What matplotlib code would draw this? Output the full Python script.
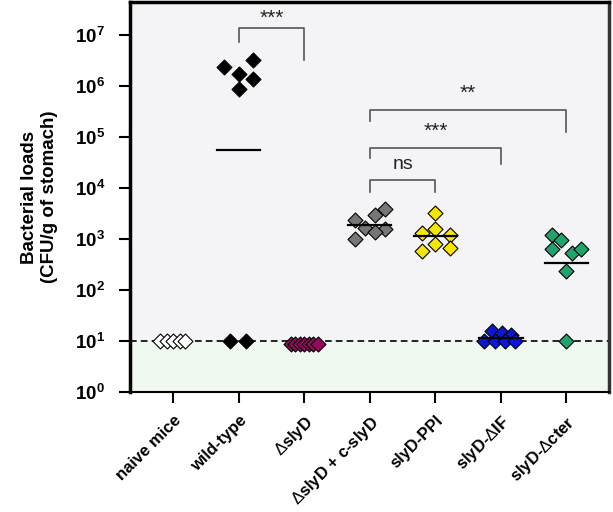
import numpy as np
import matplotlib
matplotlib.use("Agg")
import matplotlib.pyplot as plt

plt.rcParams['font.family'] = ['Liberation Sans', 'DejaVu Sans']
plt.rcParams['mathtext.fontset'] = 'custom'
plt.rcParams['mathtext.rm'] = 'Liberation Sans'
plt.rcParams['mathtext.bf'] = 'Liberation Sans:bold'

categories = ["naive mice", "wild-type", r"$\Delta$slyD", r"$\Delta$slyD + c-slyD",
              "slyD-PPI", r"slyD-$\Delta$IF", r"slyD-$\Delta$cter"]
colors = ["white", "black", "#920b5c", "#767676", "#f7e600", "#0b16d6", "#1fa56b"]

# per group: (x offset within group, CFU value)
naive_x = [-0.2, -0.1, 0.0, 0.1, 0.18]
naive_y = [10, 10, 10, 10, 10]
wt_x = [-0.22, 0.22, 0.0, 0.22, 0.0, -0.13, 0.11]
wt_y = [2.4e6, 3.2e6, 1.74e6, 1.38e6, 8.7e5, 10, 10]
dsly_x = [-0.21, -0.14, -0.07, 0.0, 0.07, 0.14, 0.21]
dsly_y = [8.8, 8.8, 8.8, 8.8, 8.8, 8.8, 8.8]
comp_x = [-0.23, -0.08, 0.08, 0.23, 0.23, 0.08, -0.23]
comp_y = [2360, 1620, 2960, 3820, 1550, 1390, 986]
ppi_x = [0.0, -0.21, 0.0, 0.23, 0.0, -0.21, 0.23]
ppi_y = [3190, 1295, 1550, 1197, 787, 590, 658]
dif_x = [-0.14, 0.01, 0.15, -0.26, -0.09, 0.06, 0.21]
dif_y = [15.9, 14.2, 13.1, 10, 10, 10, 10]
dcter_x = [-0.22, -0.08, -0.22, 0.08, 0.23, 0.0, 0.0]
dcter_y = [1197, 955, 628, 538, 637, 236, 10]

groups_x = [naive_x, wt_x, dsly_x, comp_x, ppi_x, dif_x, dcter_x]
groups_y = [naive_y, wt_y, dsly_y, comp_y, ppi_y, dif_y, dcter_y]
mean_groups = [1, 3, 4, 5, 6]

detection_limit = 10

# significance comparisons: (left group, right group, label)
comparisons = [(1, 2, "***"), (3, 4, "ns"), (3, 5, "***"), (3, 6, "**")]
# bracket geometry in log10 units: top, left leg bottom, right leg bottom, text y
bracket_geom = [(7.131, 6.869, 6.51, 7.33),
                (4.157, 3.927, 3.927, 4.451),
                (4.79, 4.582, 4.465, 5.11),
                (5.529, 5.314, 5.092, 5.85)]

W, H = 613, 512
fig = plt.figure(figsize=(W / 100, H / 100), dpi=100)
ax = fig.add_axes([130 / W, 1 - 392 / H, (609 - 130) / W, (392 - 2) / H])
ax.set_yscale("log")
ax.set_xlim(-0.66, 6.65)
ax.set_ylim(1, 10 ** 7.647)
ax.set_facecolor("#f4f4f7")
ax.axhspan(1, detection_limit, color="#eff9f0", zorder=0, lw=0)
ax.axhline(detection_limit, color="black", lw=1.2, ls=(0, (4, 2.5)), zorder=2)

for i, (xs, ys) in enumerate(zip(groups_x, groups_y)):
    ax.scatter(np.array(xs) + i, ys, marker="D", s=58, c=colors[i],
               edgecolors="black", linewidths=0.8, zorder=3)
    if i in mean_groups:
        gm = 10 ** np.mean(np.log10(ys))
        ax.plot([i - 0.33, i + 0.33], [gm, gm], color="black", lw=1.6, zorder=4)

for (a, b, lab), (top, lb, rb, ty) in zip(comparisons, bracket_geom):
    ax.plot([a, a, b, b], [10 ** lb, 10 ** top, 10 ** top, 10 ** rb],
            color="#555555", lw=1.2, zorder=2)
    ax.text((a + b) / 2, 10 ** ty, lab, ha="center", va="center",
            fontsize=14 if lab == "ns" else 15, color="#222222")

ax.set_xticks(range(len(categories)))
ax.set_xticklabels(categories, rotation=45, ha="right", rotation_mode="anchor",
                   fontweight="bold", fontsize=12)
ax.set_yticks([10 ** k for k in range(0, 8)])
ax.set_yticklabels([f"$\\mathbf{{10^{{{k}}}}}$" for k in range(0, 8)], fontsize=13.5)
ax.yaxis.set_minor_locator(matplotlib.ticker.NullLocator())
ax.tick_params(axis="both", direction="out", length=8, width=1.5)
ax.tick_params(axis="y", pad=10)
ax.tick_params(axis="x", pad=7)
ax.spines["left"].set_linewidth(2.5)
ax.spines["bottom"].set_linewidth(1.5)
ax.spines["top"].set_linewidth(2.5)
ax.spines["right"].set_linewidth(2.5)
ax.spines["right"].set_color("#333333")

ax.set_ylabel("Bacterial loads\n(CFU/g of stomach)", fontweight="bold",
              fontsize=13.5, labelpad=12)

fig.savefig("out.png", dpi=100)
